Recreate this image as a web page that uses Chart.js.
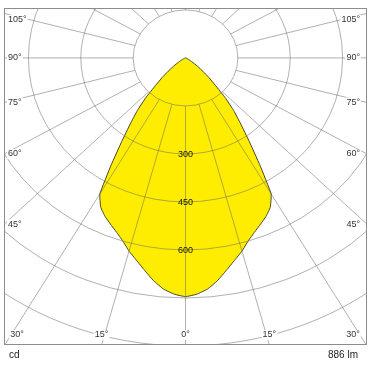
<!DOCTYPE html>
<html>
<head>
<meta charset="utf-8">
<script src="https://cdn.jsdelivr.net/npm/chart.js@4.4.1/dist/chart.umd.min.js"></script>
<style>
  html, body { margin: 0; padding: 0; background: #fff; }
  #wrap { width: 370px; height: 370px; }
</style>
</head>
<body>
<div id="wrap"><canvas id="ldc" width="370" height="370"></canvas></div>
<script>
// light distribution, angles from nadir (deg) and intensity (cd), symmetric plane
const angles = [0, 2.5, 5, 7.5, 10, 12.5, 15, 17.5, 20, 22.5, 25, 27.5, 30, 32.5, 35, 37.5, 40,
  42.5, 45, 47.5, 50, 52.5, 55, 57.5, 60, 65, 70, 75, 80, 90];
const intensity = [746, 739, 725, 702, 674, 648, 625, 599, 579, 562, 546, 526, 491, 396, 318, 260, 215,
  168, 121, 91, 65, 45, 31, 20, 13, 6, 3, 1, 0, 0];

// grid
const ringValues = [150, 300, 450, 600, 750, 900, 1050, 1200];
const ringLabels = [300, 450, 600];
const angleLabels = [0, 15, 30, 45, 60, 75, 90, 105];
const unitLabel = 'cd';
const fluxLabel = '886 lm';

const gridColor = 'rgba(100,100,100,0.5)';
const font = '"Liberation Sans", Arial, sans-serif';

// polar -> cartesian (value space), left half mirrored
const curve = [];
for (let i = angles.length - 1; i > 0; i--) {
  const t = angles[i] * Math.PI / 180;
  curve.push({ x: -intensity[i] * Math.sin(t), y: -intensity[i] * Math.cos(t) });
}
for (let i = 0; i < angles.length; i++) {
  const t = angles[i] * Math.PI / 180;
  curve.push({ x: intensity[i] * Math.sin(t), y: -intensity[i] * Math.cos(t) });
}

const polarGrid = {
  id: 'polarGrid',
  afterDatasetsDraw(chart) {
    const { ctx, chartArea: a, scales: { x, y } } = chart;
    const cx = x.getPixelForValue(0), cy = y.getPixelForValue(0);
    const kx = (x.getPixelForValue(100) - cx) / 100;
    const ky = (cy - y.getPixelForValue(100)) / 100;

    ctx.save();
    ctx.beginPath();
    ctx.rect(a.left, a.top, a.right - a.left, a.bottom - a.top);
    ctx.clip();
    ctx.strokeStyle = gridColor;
    ctx.lineWidth = 1;
    ringValues.forEach(r => {
      ctx.beginPath();
      ctx.ellipse(cx, cy, r * kx, r * ky, 0, 0, Math.PI * 2);
      ctx.stroke();
    });
    const r0 = ringValues[0];
    for (let d = 0; d < 360; d += 15) {
      const t = d * Math.PI / 180;
      ctx.beginPath();
      ctx.moveTo(cx + Math.sin(t) * r0 * kx, cy + Math.cos(t) * r0 * ky);
      ctx.lineTo(cx + Math.sin(t) * 3000 * kx, cy + Math.cos(t) * 3000 * ky);
      ctx.stroke();
    }
    ctx.restore();

    // frame
    ctx.save();
    ctx.strokeStyle = '#8c8c8c';
    ctx.lineWidth = 1;
    ctx.strokeRect(a.left + 0.5, a.top + 0.5, a.right - a.left - 1, a.bottom - a.top - 1);

    // angle labels on the frame
    ctx.font = '9px ' + font;
    ctx.textBaseline = 'middle';
    angleLabels.forEach(deg => {
      const sides = deg === 0 ? [1] : [-1, 1];
      sides.forEach(s => {
        const t = deg * Math.PI / 180;
        const dx = s * Math.sin(t) * kx, dy = Math.cos(t) * ky;
        const tSide = dx !== 0 ? (s > 0 ? a.right - cx : cx - a.left) / Math.abs(dx) : Infinity;
        const tBot = dy > 0 ? (a.bottom - cy) / dy : Infinity;
        const txt = deg + '°';
        const w = ctx.measureText(txt).width;
        let px, py;
        if (tBot <= tSide) {
          px = Math.min(Math.max(cx + dx * tBot, a.left + 13), a.right - 14);
          py = a.bottom - 10;
          ctx.textAlign = 'center';
          ctx.fillStyle = '#fff';
          ctx.fillRect(px - w / 2 - 1, py - 5, w + 2, 10);
        } else {
          py = Math.min(Math.max(cy + dy * tSide, a.top + 12), a.bottom - 12);
          if (s < 0) {
            px = a.left + 4;
            ctx.textAlign = 'left';
            ctx.fillStyle = '#fff';
            ctx.fillRect(px - 1, py - 5, w + 2, 10);
          } else {
            px = a.right - 7;
            ctx.textAlign = 'right';
            ctx.fillStyle = '#fff';
            ctx.fillRect(px - w - 1, py - 5, w + 2, 10);
          }
        }
        ctx.fillStyle = '#333';
        ctx.fillText(txt, px, py);
      });
    });

    // intensity labels along nadir
    ctx.textAlign = 'center';
    ctx.fillStyle = '#111';
    ringLabels.forEach(r => {
      ctx.fillText(String(r), cx, cy + r * ky + 1);
    });

    // footer
    ctx.font = '10px ' + font;
    ctx.fillStyle = '#222';
    ctx.textAlign = 'left';
    ctx.fillText(unitLabel, a.left + 5, a.bottom + 10);
    ctx.textAlign = 'right';
    ctx.fillText(fluxLabel, a.right - 9, a.bottom + 10);
    ctx.restore();
  }
};

new Chart(document.getElementById('ldc').getContext('2d'), {
  type: 'scatter',
  data: {
    datasets: [{
      data: curve,
      showLine: true,
      fill: 'shape',
      backgroundColor: '#ffed00',
      borderColor: '#45432a',
      borderWidth: 1,
      pointRadius: 0,
      tension: 0.1
    }]
  },
  options: {
    responsive: false,
    animation: false,
    layout: { padding: { left: 4, top: 8, right: 3, bottom: 25 } },
    plugins: {
      legend: { display: false },
      tooltip: { enabled: false }
    },
    scales: {
      x: { type: 'linear', display: false, min: -520, max: 520 },
      y: { type: 'linear', display: false, min: -897, max: 156 }
    }
  },
  plugins: [polarGrid]
});
</script>
</body>
</html>
